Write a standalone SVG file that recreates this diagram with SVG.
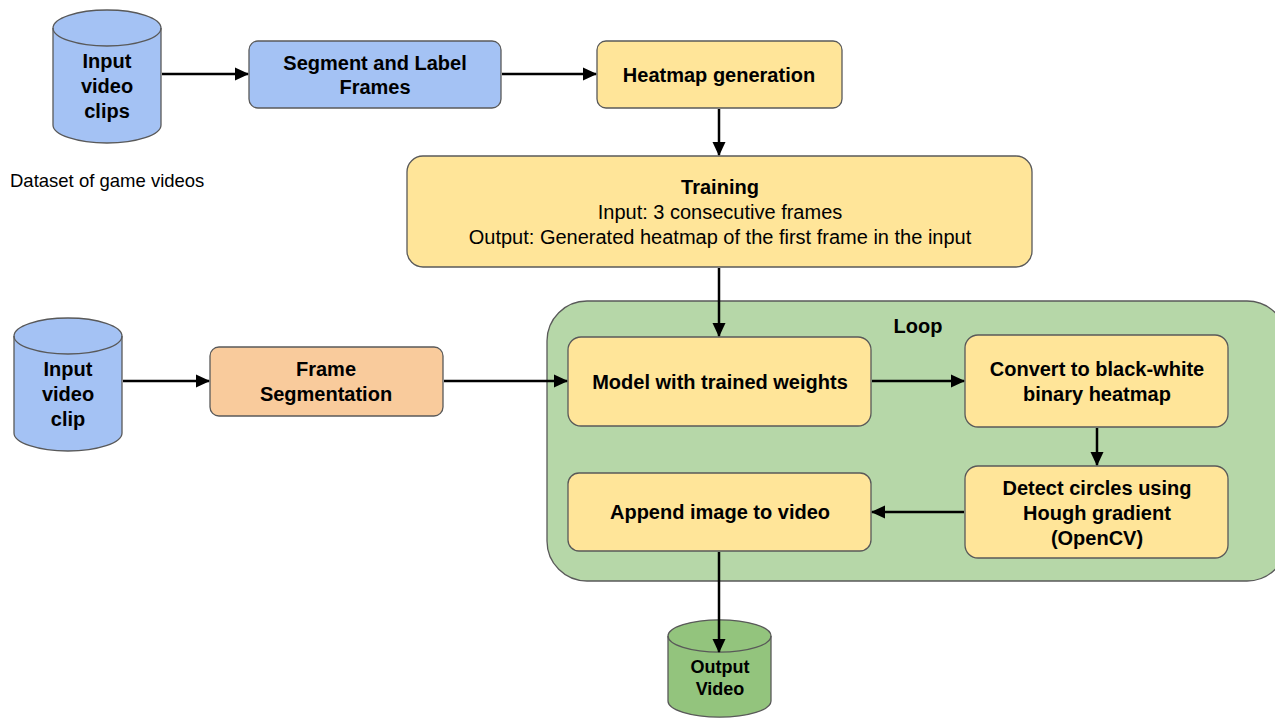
<svg xmlns="http://www.w3.org/2000/svg" width="1275" height="719" viewBox="0 0 1275 719">
<style>
.b{stroke:#595959;stroke-width:1.3}
.blue{fill:#a4c2f4}.yel{fill:#ffe599}.org{fill:#f9cb9c}.grn{fill:#b6d7a8}.dg{fill:#93c47d}
.t{font-family:"Liberation Sans",Arial,sans-serif;font-size:20px;font-weight:bold;fill:#000;text-anchor:middle}
.n{font-family:"Liberation Sans",Arial,sans-serif;font-size:20px;fill:#000;text-anchor:middle}
.c{stroke:#000;stroke-width:2.5;fill:none;marker-end:url(#ah)}
</style>
<defs>
<marker id="ah" markerWidth="14" markerHeight="14" refX="13" refY="6.5" orient="auto" markerUnits="userSpaceOnUse" viewBox="0 0 14 13"><path d="M0,0 L14,6.5 L0,13 z" fill="#000"/></marker>
</defs>
<rect width="1275" height="719" fill="#fff"/>
<g id="loop"><rect class="b grn" x="547" y="301" width="740" height="280" rx="40"/><text class="t" x="918" y="333">Loop</text></g>
<g id="cyl1">
<path class="b blue" d="M53,28 A54,18 0 0 1 161,28 L161,125 A54,18 0 0 1 53,125 Z"/>
<path class="b" fill="none" d="M53,28 A54,18 0 0 0 161,28"/>
<text class="t" x="107" y="68">Input</text><text class="t" x="107" y="93">video</text><text class="t" x="107" y="118">clips</text>
</g>
<g id="seg"><rect class="b blue" x="249" y="41" width="252" height="67" rx="9"/><text class="t" x="375" y="70">Segment and Label</text><text class="t" x="375" y="94">Frames</text></g>
<g id="heat"><rect class="b yel" x="597" y="41" width="245" height="67" rx="9"/><text class="t" x="719" y="82">Heatmap generation</text></g>
<text class="n" x="10" y="187" style="text-anchor:start;font-size:18.5px">Dataset of game videos</text>
<g id="train"><rect class="b yel" x="407" y="156" width="625" height="111" rx="16"/>
<text class="t" x="720" y="194">Training</text>
<text class="n" x="720" y="219">Input: 3 consecutive frames</text>
<text class="n" x="720" y="244">Output: Generated heatmap of the first frame in the input</text></g>
<g id="cyl2">
<path class="b blue" d="M14,336 A54,18 0 0 1 122,336 L122,433 A54,18 0 0 1 14,433 Z"/>
<path class="b" fill="none" d="M14,336 A54,18 0 0 0 122,336"/>
<text class="t" x="68" y="376">Input</text><text class="t" x="68" y="401">video</text><text class="t" x="68" y="426">clip</text>
</g>
<g id="fseg"><rect class="b org" x="210" y="347" width="233" height="69" rx="9"/><text class="t" x="326" y="376">Frame</text><text class="t" x="326" y="401">Segmentation</text></g>
<g id="model"><rect class="b yel" x="568" y="337" width="303" height="89" rx="13"/><text class="t" x="720" y="389">Model with trained weights</text></g>
<g id="conv"><rect class="b yel" x="965" y="335" width="263" height="92" rx="13"/><text class="t" x="1097" y="376">Convert to black-white</text><text class="t" x="1097" y="401">binary heatmap</text></g>
<g id="detect"><rect class="b yel" x="965" y="466" width="263" height="92" rx="13"/><text class="t" x="1097" y="495">Detect circles using</text><text class="t" x="1097" y="520">Hough gradient</text><text class="t" x="1097" y="545">(OpenCV)</text></g>
<g id="append"><rect class="b yel" x="568" y="473" width="303" height="78" rx="11"/><text class="t" x="720" y="519">Append image to video</text></g>
<g id="out">
<path class="b dg" d="M668,636 A51,16 0 0 1 771,636 L771,701 A51,16 0 0 1 668,701 Z"/>
<path class="b" fill="none" d="M668,636 A51,16 0 0 0 771,636"/>
<text class="t" x="720" y="673" style="font-size:18px">Output</text><text class="t" x="720" y="695" style="font-size:18px">Video</text>
</g>
<g id="connectors">
<path class="c" d="M162,74 L248,74"/>
<path class="c" d="M502,74 L596,74"/>
<path class="c" d="M719,109 L719,155"/>
<path class="c" d="M719,268 L719,336"/>
<path class="c" d="M123,381 L209,381"/>
<path class="c" d="M444,381 L567,381"/>
<path class="c" d="M872,381 L964,381"/>
<path class="c" d="M1097,428 L1097,465"/>
<path class="c" d="M964,512 L872,512"/>
<path class="c" d="M719,552 L719,652"/>
</g>
</svg>
